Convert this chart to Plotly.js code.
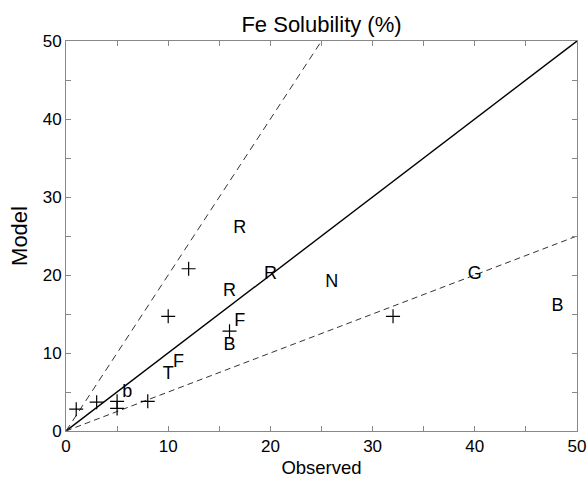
<!DOCTYPE html>
<html>
<head>
<meta charset="utf-8">
<script src="https://cdn.plot.ly/plotly-3.0.1.min.js"></script>
<style>html,body{margin:0;padding:0;background:#fff;}#chart{width:587px;height:478px;}</style>
</head>
<body>
<div id="chart"></div>
<script>
// "+" markers (observed, model)
const plusObserved = [1, 3, 5, 5, 8, 10, 12, 16, 32];
const plusModel    = [2.8, 3.7, 3.8, 2.9, 3.8, 14.7, 20.8, 12.8, 14.7];

// letter-labelled sites
const letterLabels   = ['R', 'R', 'R', 'N', 'G', 'B', 'F', 'B', 'F', 'T', 'b'];
const letterObserved = [17, 16, 20, 26, 40, 48.1, 17, 16, 11, 10, 6];
const letterModel    = [26, 17.9, 20.1, 19, 20.1, 15.9, 14.1, 10.9, 8.8, 7.2, 5];

// reference lines y = k * x
const refSlopes = [1, 2, 0.5];
const refDash   = ['solid', '7px,5px', '6px,4px'];

const axisMax = 50;
const tickValues = [0, 5, 10, 15, 20, 25, 30, 35, 40, 45, 50];
const tickLabels = ['0', '', '10', '', '20', '', '30', '', '40', '', '50'];

const font = 'Liberation Sans, Arial, Helvetica, sans-serif';

const traces = [];
refSlopes.forEach((k, i) => {
  const xEnd = Math.min(axisMax, axisMax / k);
  traces.push({
    x: [0, xEnd], y: [0, k * xEnd], mode: 'lines', type: 'scatter',
    line: {color: i === 0 ? '#000' : '#333', width: i === 0 ? 1.4 : 1, dash: refDash[i]},
    hoverinfo: 'skip', showlegend: false, cliponaxis: false
  });
});
traces.push({
  x: plusObserved, y: plusModel, mode: 'markers', type: 'scatter',
  marker: {symbol: 'cross-thin-open', size: 10, color: '#000', line: {color: '#000', width: 1.2}},
  showlegend: false
});
traces.push({
  x: letterObserved, y: letterModel, text: letterLabels, mode: 'text', type: 'scatter',
  textposition: 'middle center',
  textfont: {family: font, size: 18, color: '#000'},
  showlegend: false
});

const axisCommon = {
  range: [0, axisMax], tickmode: 'array', tickvals: tickValues, ticktext: tickLabels,
  ticks: 'inside', ticklen: 5, tickcolor: '#888', tickwidth: 1,
  showline: true, linecolor: '#888', linewidth: 1, mirror: 'ticks',
  showgrid: false, zeroline: false,
  tickfont: {family: font, size: 17, color: '#000'}
};

const layout = {
  width: 587, height: 478,
  margin: {l: 66, r: 10, t: 41, b: 47},
  paper_bgcolor: '#fff', plot_bgcolor: '#fff',
  title: {text: 'Fe Solubility (%)', font: {family: font, size: 22, color: '#000'}, x: 0.5, xref: 'paper', xanchor: 'center', y: 0.95, yref: 'container', yanchor: 'middle'},
  xaxis: Object.assign({}, axisCommon, {title: {text: 'Observed', font: {family: font, size: 18.5, color: '#000'}, standoff: 8}}),
  yaxis: Object.assign({}, axisCommon, {title: {text: 'Model', font: {family: font, size: 22, color: '#000'}, standoff: 8}}),
  showlegend: false
};

Plotly.newPlot('chart', traces, layout, {staticPlot: true, displayModeBar: false});
</script>
</body>
</html>
